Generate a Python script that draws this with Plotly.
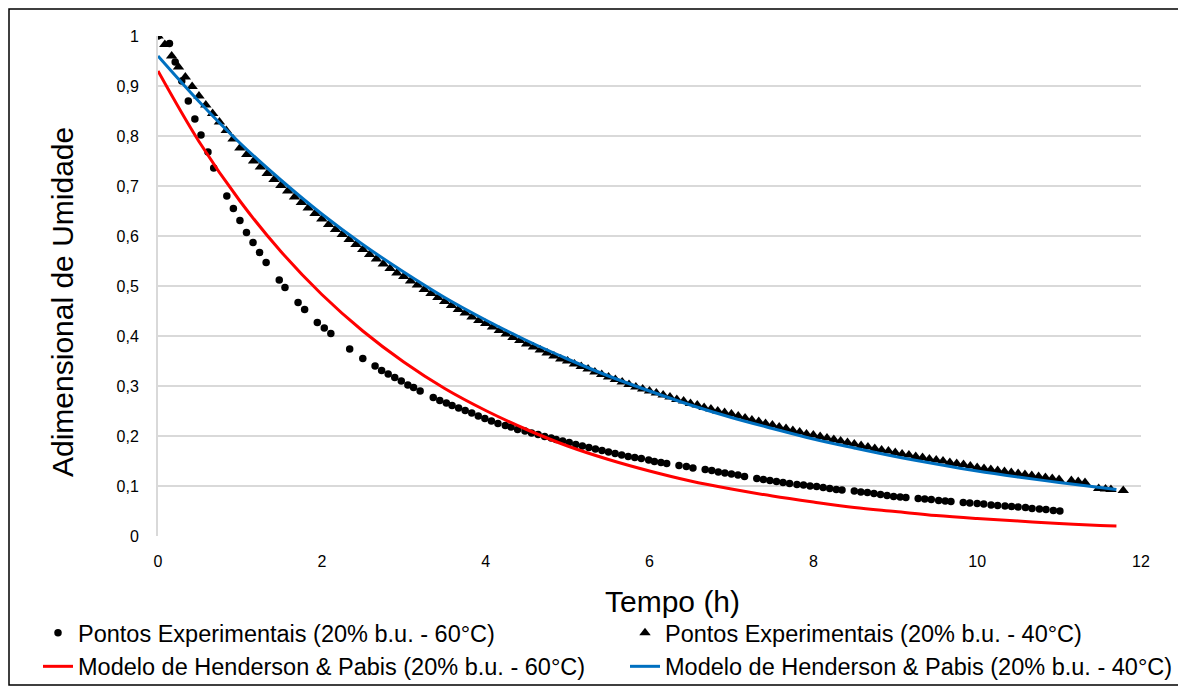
import plotly.graph_objects as go

# ---- Experimental points, 20% b.u. - 60 C (time in h, moisture ratio) ----
t60 = [0.00, 0.14, 0.21, 0.29, 0.37, 0.45, 0.525, 0.61, 0.68, 0.84, 0.92, 1.00, 1.08, 1.16,
       1.24, 1.32, 1.48, 1.55, 1.71, 1.79, 1.945, 2.03, 2.11, 2.34, 2.50, 2.65, 2.73, 2.81,
       2.89, 2.97, 3.05, 3.12, 3.20, 3.36, 3.44, 3.52, 3.59, 3.67, 3.75, 3.83, 3.91, 3.99,
       4.07, 4.15, 4.24, 4.31, 4.39, 4.48, 4.56, 4.64, 4.72, 4.80, 4.86, 4.94, 5.02, 5.10,
       5.18, 5.26, 5.34, 5.42, 5.50, 5.58, 5.66, 5.74, 5.82, 5.90, 5.99, 6.06, 6.14, 6.21,
       6.36, 6.45, 6.53, 6.68, 6.76, 6.84, 6.92, 7.00, 7.08, 7.16, 7.31, 7.39, 7.47, 7.55,
       7.63, 7.71, 7.80, 7.88, 7.96, 8.04, 8.12, 8.20, 8.28, 8.35, 8.50, 8.58, 8.66, 8.74,
       8.82, 8.90, 8.98, 9.06, 9.13, 9.28, 9.36, 9.44, 9.53, 9.61, 9.68, 9.83, 9.91, 10.00,
       10.08, 10.17, 10.25, 10.34, 10.42, 10.50, 10.59, 10.67, 10.76, 10.84, 10.93, 11.01]
mr60 = [1.000, 0.985, 0.948, 0.910, 0.870, 0.834, 0.802, 0.768, 0.736, 0.680, 0.655, 0.631, 0.607, 0.587,
        0.567, 0.547, 0.512, 0.497, 0.467, 0.453, 0.427, 0.416, 0.405, 0.374, 0.355, 0.340, 0.331, 0.324,
        0.317, 0.310, 0.302, 0.297, 0.290, 0.277, 0.271, 0.266, 0.261, 0.256, 0.251, 0.246, 0.240, 0.235,
        0.230, 0.225, 0.221, 0.218, 0.213, 0.210, 0.206, 0.203, 0.199, 0.196, 0.193, 0.190, 0.187, 0.183,
        0.180, 0.177, 0.174, 0.171, 0.168, 0.165, 0.162, 0.159, 0.157, 0.155, 0.152, 0.149, 0.147, 0.145,
        0.141, 0.139, 0.136, 0.133, 0.131, 0.128, 0.126, 0.124, 0.122, 0.119, 0.115, 0.113, 0.111, 0.109,
        0.107, 0.105, 0.103, 0.102, 0.100, 0.099, 0.097, 0.095, 0.093, 0.092, 0.090, 0.088, 0.087, 0.085,
        0.083, 0.081, 0.079, 0.078, 0.077, 0.075, 0.074, 0.073, 0.071, 0.070, 0.069, 0.067, 0.066, 0.065,
        0.064, 0.062, 0.061, 0.060, 0.059, 0.058, 0.057, 0.055, 0.054, 0.053, 0.051, 0.050]

# ---- Experimental points, 20% b.u. - 40 C (sampled every 5 min, then last readings) ----
t40_min = list(range(0, 665, 5)) + [669, 674, 679, 689, 694, 698, 707]
mr40 = [1.000, 0.983, 0.960, 0.938, 0.918, 0.899, 0.880, 0.862, 0.845, 0.828, 0.811, 0.794,
        0.776, 0.763, 0.750, 0.738, 0.725, 0.713, 0.701, 0.690, 0.678, 0.667, 0.656, 0.645,
        0.634, 0.623, 0.613, 0.603, 0.593, 0.583, 0.573, 0.563, 0.554, 0.544, 0.535, 0.526,
        0.519, 0.510, 0.502, 0.493, 0.485, 0.477, 0.469, 0.461, 0.453, 0.446, 0.438, 0.431,
        0.425, 0.418, 0.411, 0.404, 0.397, 0.391, 0.384, 0.378, 0.372, 0.366, 0.360, 0.354,
        0.350, 0.344, 0.339, 0.334, 0.328, 0.323, 0.318, 0.313, 0.308, 0.303, 0.298, 0.294,
        0.290, 0.286, 0.282, 0.278, 0.273, 0.270, 0.265, 0.262, 0.257, 0.254, 0.250, 0.247,
        0.244, 0.240, 0.236, 0.232, 0.229, 0.225, 0.222, 0.218, 0.215, 0.211, 0.208, 0.204,
        0.202, 0.199, 0.196, 0.193, 0.190, 0.187, 0.184, 0.181, 0.178, 0.175, 0.172, 0.170,
        0.167, 0.164, 0.162, 0.159, 0.157, 0.154, 0.152, 0.150, 0.147, 0.145, 0.143, 0.140,
        0.137, 0.135, 0.133, 0.131, 0.129, 0.127, 0.125, 0.123, 0.121, 0.119, 0.117, 0.115,
        0.113, 0.111, 0.109, 0.107, 0.095, 0.094, 0.093, 0.091]
t40 = [m / 60 for m in t40_min]

# ---- Henderson & Pabis model curves ----
t_model = [0, 0.5, 1, 1.5, 2, 2.5, 3, 3.5, 4, 4.5, 5, 5.5, 6, 6.5, 7, 7.5, 8, 8.5, 9, 9.5,
           10, 10.5, 11, 11.5, 11.7]
hp60 = [0.930, 0.789, 0.670, 0.569, 0.483, 0.410, 0.348, 0.295, 0.251, 0.213, 0.180, 0.153, 0.130,
        0.110, 0.094, 0.080, 0.068, 0.057, 0.049, 0.041, 0.035, 0.030, 0.025, 0.021, 0.020]
hp40 = [0.960, 0.869, 0.786, 0.712, 0.644, 0.583, 0.528, 0.477, 0.432, 0.391, 0.354, 0.320, 0.290,
        0.262, 0.237, 0.215, 0.194, 0.176, 0.159, 0.144, 0.130, 0.118, 0.107, 0.097, 0.093]

x_ticks = [0, 2, 4, 6, 8, 10, 12]

FONT = "Liberation Sans"
# the page body adds an 8 px offset; the figure is made a little larger than the window
# so the legend never pushes the plot margins (the overflow is outside the window)
W, H = 1200, 720
ML, MT, PW, PH = 150, 28, 983, 500
MR, MB = W - ML - PW, H - MT - PH


def px(xf):  # figure x pixel -> paper
    return (xf - ML) / PW


def py(yf):  # figure y pixel -> paper
    return (MT + PH - yf) / PH


fig = go.Figure()
fig.add_trace(go.Scatter(x=t60, y=mr60, mode="markers", name="Pontos Experimentais (20% b.u. - 60°C)",
                         marker=dict(symbol="circle", size=7.5, color="black"),
                         legend="legend", legendgroup="a"))
fig.add_trace(go.Scatter(x=t40, y=mr40, mode="markers", name="Pontos Experimentais (20% b.u. - 40°C)",
                         marker=dict(symbol="triangle-up", size=10, color="black"),
                         legend="legend2", legendgroup="c"))
fig.add_trace(go.Scatter(x=t_model, y=hp60, mode="lines", line_shape="spline",
                         name="Modelo de Henderson & Pabis (20% b.u. - 60°C)",
                         line=dict(color="#FF0000", width=3),
                         legend="legend", legendgroup="b"))
fig.add_trace(go.Scatter(x=t_model, y=hp40, mode="lines", line_shape="spline",
                         name="Modelo de Henderson & Pabis (20% b.u. - 40°C)",
                         line=dict(color="#0070C0", width=3),
                         legend="legend2", legendgroup="d"))

legend_common = dict(orientation="v", xanchor="left", yanchor="top", y=py(603),
                     font=dict(family=FONT, size=23.5, color="black"),
                     tracegroupgap=0, bgcolor="rgba(0,0,0,0)", itemwidth=30, borderwidth=0)

fig.update_layout(
    width=W, height=H,
    margin=dict(l=ML, r=MR, t=MT, b=MB),
    paper_bgcolor="white", plot_bgcolor="white",
    separators=", ",
    font=dict(family=FONT, size=16, color="black"),
    legend=dict(x=px(30), **legend_common),
    legend2=dict(x=px(617), **legend_common),
    xaxis=dict(range=[0, 12], tickvals=x_ticks, showgrid=False, zeroline=False, showline=False,
               ticks="", ticklabelstandoff=14, tickfont=dict(family=FONT, size=16)),
    yaxis=dict(range=[0, 1], tick0=0, dtick=0.1, showgrid=True, gridcolor="#D9D9D9", gridwidth=2,
               zeroline=False, showline=True, linecolor="#D9D9D9", linewidth=2,
               ticks="", ticklabelstandoff=14, tickfont=dict(family=FONT, size=16)),
    annotations=[
        dict(text="Tempo (h)", x=px(664), y=py(593), xref="paper", yref="paper",
             showarrow=False, font=dict(family=FONT, size=30, color="black"),
             xanchor="center", yanchor="middle"),
        dict(text="Adimensional de Umidade", x=px(54), y=py(294),
             xref="paper", yref="paper", showarrow=False, textangle=-90,
             font=dict(family=FONT, size=30, color="black"), xanchor="center", yanchor="middle"),
    ],
    shapes=[
        dict(type="rect", xref="paper", yref="paper",
             x0=px(1), x1=px(1175), y0=py(677), y1=py(1),
             line=dict(color="black", width=1.5), fillcolor="rgba(0,0,0,0)", layer="below"),
    ],
)

fig.write_html("out.html")
